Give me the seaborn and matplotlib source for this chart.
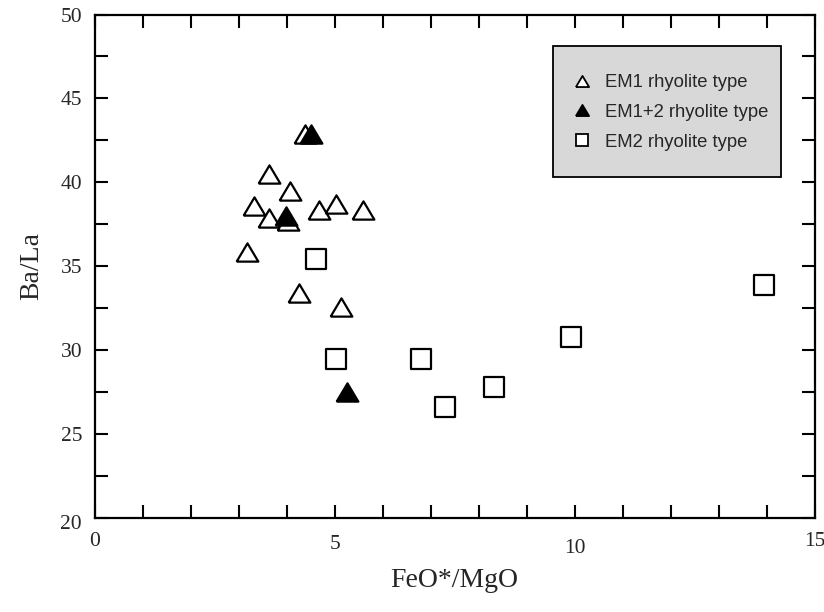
import matplotlib
matplotlib.use("Agg")
import matplotlib.pyplot as plt
import matplotlib.transforms as mtransforms
from matplotlib.lines import Line2D
from matplotlib.patches import Rectangle
from matplotlib.ticker import MultipleLocator
import numpy as np
import pandas as pd
import seaborn as sns

# FeO*/MgO vs Ba/La for the rhyolite groups
em1_feo_mgo = [4.38, 3.63, 4.07, 3.32, 3.64, 4.04, 4.67, 5.02, 5.59, 3.18, 4.25, 5.14]
em1_ba_la = [42.9, 40.5, 39.5, 38.6, 37.9, 37.7, 38.35, 38.7, 38.35, 35.85, 33.4, 32.55]

em12_feo_mgo = [4.50, 3.98, 5.25]
em12_ba_la = [42.9, 38.0, 27.5]

em2_feo_mgo = [4.61, 5.02, 6.80, 7.31, 8.32, 9.92, 13.95]
em2_ba_la = [35.45, 29.5, 29.5, 26.6, 27.8, 30.8, 33.9]

labels = ["EM1 rhyolite type", "EM1+2 rhyolite type", "EM2 rhyolite type"]
x_ticks = [0, 5, 10, 15]
y_ticks = [20, 25, 30, 35, 40, 45, 50]

em1 = pd.DataFrame({"x": em1_feo_mgo, "y": em1_ba_la})
em12 = pd.DataFrame({"x": em12_feo_mgo, "y": em12_ba_la})
em2 = pd.DataFrame({"x": em2_feo_mgo, "y": em2_ba_la})

sns.set_style("ticks")
plt.rcParams["font.family"] = ["Liberation Serif", "DejaVu Serif"]

# slightly flattened triangle marker
tri = [(-1.0, -0.84), (1.0, -0.84), (0.0, 0.84), (-1.0, -0.84)]

fig = plt.figure(figsize=(8.24, 6.12), dpi=100)
ax = fig.add_axes([0.1147, 0.1536, 0.874, 0.8227])

sns.scatterplot(data=em1, x="x", y="y", ax=ax, marker=tri, s=245,
                facecolor="white", edgecolor="black", linewidth=1.6, zorder=3)
sns.scatterplot(data=em12, x="x", y="y", ax=ax, marker=tri, s=245,
                facecolor="black", edgecolor="black", linewidth=1.6, zorder=4)
sns.scatterplot(data=em2, x="x", y="y", ax=ax, marker="s", s=195,
                facecolor="white", edgecolor="black", linewidth=1.6, zorder=5)

ax.set_xlim(0, 15)
ax.set_ylim(20, 50)
ax.set_xticks(x_ticks)
ax.set_yticks(y_ticks)
ax.set_xticklabels([str(v) for v in x_ticks])
ax.set_yticklabels([str(v) for v in y_ticks])
ax.xaxis.set_minor_locator(MultipleLocator(1))
ax.yaxis.set_minor_locator(MultipleLocator(2.5))
ax.tick_params(which="both", direction="in", length=9.5, width=1.5,
               top=True, right=True, color="black")
ax.tick_params(axis="x", which="major", labelsize=15.5, pad=10)
ax.tick_params(axis="y", which="major", labelsize=15.5, pad=9)
for side in ax.spines.values():
    side.set_linewidth(1.6)
    side.set_color("black")

ax.set_xlabel("FeO*/MgO", fontsize=20, labelpad=7)
ax.set_ylabel("Ba/La", fontsize=20, labelpad=12)

# x tick labels sit at slightly staggered heights
for lab, dy in zip(ax.get_xticklabels(), [0, 3.5, 7, 0]):
    lab.set_transform(lab.get_transform() +
                      mtransforms.ScaledTranslation(0, -dy / 100, fig.dpi_scale_trans))
# y tick label "20" sits a little low
ylabs = ax.get_yticklabels()
ylabs[0].set_transform(ylabs[0].get_transform() +
                       mtransforms.ScaledTranslation(0, -4 / 100, fig.dpi_scale_trans))

# legend box
x0, y0 = ax.transAxes.inverted().transform((553, 612 - 177.5))
x1, y1 = ax.transAxes.inverted().transform((780.5, 612 - 46.5))
box = Rectangle((x0, y0), x1 - x0, y1 - y0, transform=ax.transAxes,
                facecolor="#d8d8d8", edgecolor="black", linewidth=1.3,
                zorder=6, clip_on=False)
ax.add_patch(box)
handles = [
    Line2D([], [], linestyle="none", marker=tri, markersize=9.5,
           markerfacecolor="white", markeredgecolor="black", markeredgewidth=1.3),
    Line2D([], [], linestyle="none", marker=tri, markersize=9.5,
           markerfacecolor="black", markeredgecolor="black", markeredgewidth=1.3),
    Line2D([], [], linestyle="none", marker="s", markersize=8,
           markerfacecolor="white", markeredgecolor="black", markeredgewidth=1.3),
]
leg = ax.legend(handles, labels, loc="upper left",
                bbox_to_anchor=(573 / 824, (612 - 74) / 612),
                bbox_transform=fig.transFigure, frameon=False,
                prop={"family": "Liberation Sans", "size": 13.3},
                handlelength=1.0, handletextpad=0.75, labelspacing=0.7,
                borderpad=0, borderaxespad=0)
leg.set_zorder(7)

fig.savefig("out.png", dpi=100)
